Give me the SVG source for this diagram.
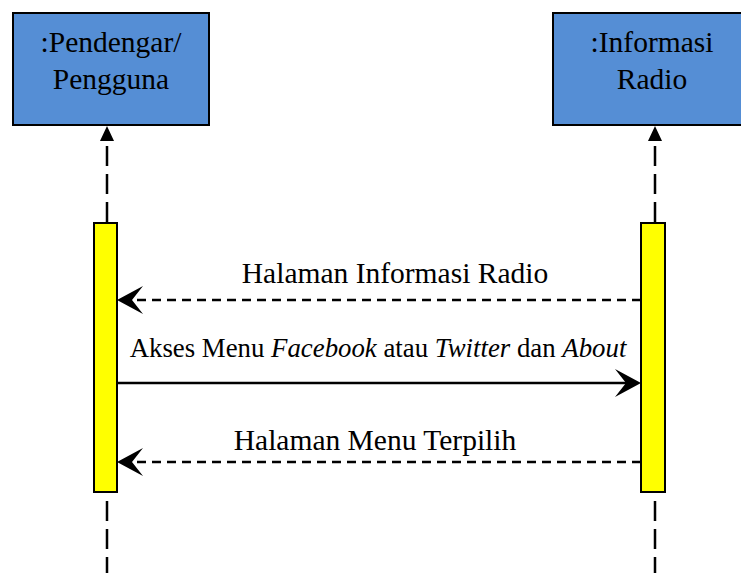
<svg xmlns="http://www.w3.org/2000/svg" width="741" height="573" viewBox="0 0 741 573">
<style>
.box{fill:#558ed5;stroke:#000;stroke-width:2}
.bar{fill:#ffff00;stroke:#000;stroke-width:2}
.t{font-size:29.5px;fill:#000;text-anchor:middle}
.m{font-size:26.8px;fill:#000;text-anchor:middle}
.life{stroke:#000;stroke-width:2.5;stroke-dasharray:20 8;fill:none}
.ret{stroke:#000;stroke-width:2.5;stroke-dasharray:9 6;fill:none}
.call{stroke:#000;stroke-width:2.5;fill:none}
.head{fill:#000}
</style>
<g id="pendengar" font-family="'Liberation Serif', 'DejaVu Serif', serif">
<rect class="box" x="13" y="13" width="196" height="112"/>
<text class="t" x="111" y="52">:Pendengar/</text>
<text class="t" x="111" y="89">Pengguna</text>
</g>
<g id="informasi" font-family="'Liberation Serif', 'DejaVu Serif', serif">
<rect class="box" x="553" y="13" width="198" height="112"/>
<text class="t" x="652" y="52">:Informasi</text>
<text class="t" x="652" y="89">Radio</text>
</g>
<g id="lifelines">
<line class="life" x1="107" y1="146" x2="107" y2="223"/>
<polygon class="head" points="107,126 100,141 114,141"/>
<line class="life" x1="107" y1="501" x2="107" y2="573"/>
<line class="life" x1="655" y1="146" x2="655" y2="223"/>
<polygon class="head" points="655,126 648,141 662,141"/>
<line class="life" x1="655" y1="501" x2="655" y2="573"/>
</g>
<g id="activation-left">
<rect class="bar" x="94" y="223" width="23" height="269"/>
</g>
<g id="activation-right">
<rect class="bar" x="641" y="223" width="24" height="269"/>
</g>
<g id="connectors" font-family="'Liberation Serif', 'DejaVu Serif', serif">
<line class="ret" x1="641" y1="300" x2="128" y2="300"/>
<path class="head" d="M117,300 L143,286 L132,300 L143,314 Z"/>
<text class="t" x="395" y="283">Halaman Informasi Radio</text>
<line class="call" x1="117" y1="383" x2="630" y2="383"/>
<path class="head" d="M641,383 L615,369 L626,383 L615,397 Z"/>
<text class="m" x="378" y="357">Akses Menu <tspan font-style="italic">Facebook</tspan> atau <tspan font-style="italic">Twitter</tspan> dan <tspan font-style="italic">About</tspan></text>
<line class="ret" x1="641" y1="462" x2="128" y2="462"/>
<path class="head" d="M117,462 L143,448 L132,462 L143,476 Z"/>
<text class="t" x="375" y="450">Halaman Menu Terpilih</text>
</g>
</svg>
